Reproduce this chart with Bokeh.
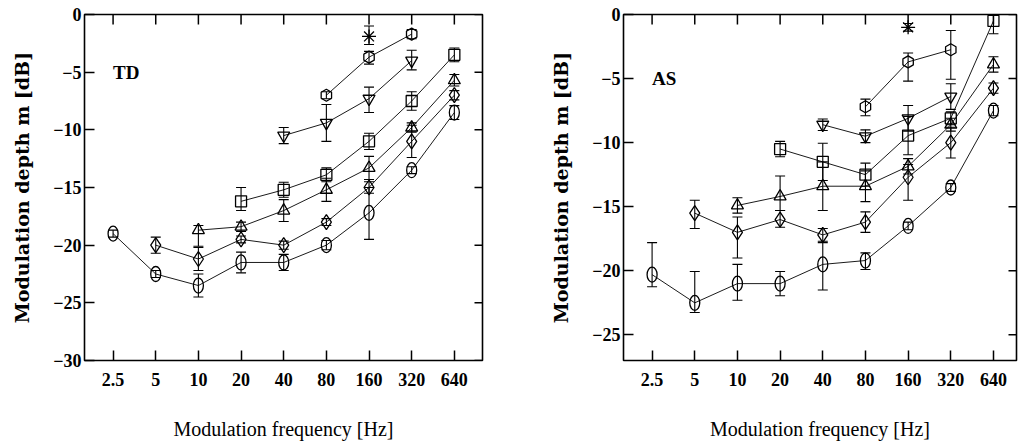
import numpy as np
from bokeh.plotting import figure
from bokeh.models import (ColumnDataSource, Whisker, TeeHead,
                          FixedTicker, Range1d, Label)
from bokeh.layouts import row
from bokeh.embed import file_html
from bokeh.resources import INLINE

N = None
freqs = [2.5, 5, 10, 20, 40, 80, 160, 320, 640]
freq_labels = ["2.5", "5", "10", "20", "40", "80", "160", "320", "640"]

# ---------------- TD panel ----------------
td_circle = [-19.0, -22.5, -23.5, -21.5, -21.5, -20.0, -17.2, -13.5, -8.5]
td_circle_hi = [0.3, 0.3, 1.0, 0.9, 0.7, 0.4, 2.2, 0.3, 0.6]
td_circle_lo = [0.3, 0.3, 1.0, 0.9, 0.7, 0.4, 2.3, 0.3, 0.6]

td_diamond = [N, -20.0, -21.2, -19.5, -20.0, -18.0, -15.0, -11.0, -7.0]
td_diamond_hi = [N, 0.7, 1.0, 0.3, 0.35, 0.3, 0.5, 1.4, 0.4]
td_diamond_lo = [N, 0.7, 1.0, 0.3, 0.35, 0.3, 0.5, 1.4, 0.4]

td_triangle = [N, N, -18.7, -18.4, -17.0, -15.2, -13.3, -9.8, -5.7]
td_triangle_hi = [N, N, 0.4, 0.4, 0.95, 1.0, 1.0, 0.4, 0.5]
td_triangle_lo = [N, N, 1.4, 0.4, 0.95, 1.0, 1.0, 0.4, 0.5]

td_square = [N, N, N, -16.2, -15.2, -13.9, -11.0, -7.5, -3.5]
td_square_hi = [N, N, N, 1.2, 0.65, 0.6, 0.7, 0.8, 0.6]
td_square_lo = [N, N, N, 0.8, 0.65, 0.6, 0.7, 0.8, 0.6]

td_invtri = [N, N, N, N, -10.5, -9.4, -7.3, -4.0, N]
td_invtri_hi = [N, N, N, N, 0.7, 1.6, 1.0, 0.9, N]
td_invtri_lo = [N, N, N, N, 0.7, 1.6, 1.2, 0.8, N]

td_pent = [N, N, N, N, N, -7.0, -3.7, -1.7, N]
td_pent_hi = [N, N, N, N, N, 0.3, 0.5, 0.4, N]
td_pent_lo = [N, N, N, N, N, 0.3, 0.6, 0.4, N]

td_star = [N, N, N, N, N, N, -1.9, N, N]
td_star_hi = [N, N, N, N, N, N, 0.9, N, N]
td_star_lo = [N, N, N, N, N, N, 0.7, N, N]

# ---------------- AS panel ----------------
as_circle = [-20.3, -22.5, -21.0, -21.0, -19.5, -19.2, -16.5, -13.5, -7.5]
as_circle_hi = [2.5, 2.45, 1.5, 0.95, 1.7, 0.6, 0.3, 0.3, 0.4]
as_circle_lo = [0.95, 0.75, 1.3, 0.95, 2.0, 0.7, 0.3, 0.3, 0.4]

as_diamond = [N, -15.5, -17.0, -16.0, -17.2, -16.2, -12.7, -10.0, -5.75]
as_diamond_hi = [N, 1.0, 1.2, 0.7, 0.5, 0.8, 1.0, 1.2, 0.4]
as_diamond_lo = [N, 1.2, 2.0, 0.6, 0.5, 0.8, 1.8, 1.2, 0.4]

as_triangle = [N, N, -14.9, -14.2, -13.4, -13.4, -11.85, -8.6, -3.9]
as_triangle_hi = [N, N, 0.6, 1.6, 1.9, 1.2, 0.6, 0.5, 0.6]
as_triangle_lo = [N, N, 0.6, 1.1, 1.9, 1.2, 0.6, 0.5, 0.6]

as_square = [N, N, N, -10.5, -11.5, -12.5, -9.45, -8.1, -0.5]
as_square_hi = [N, N, N, 0.6, 1.45, 0.9, 1.5, 0.5, 1.0]
as_square_lo = [N, N, N, 0.6, 1.45, 0.9, 1.5, 0.5, 1.0]

as_invtri = [N, N, N, N, -8.6, -9.5, -8.1, -6.4, N]
as_invtri_hi = [N, N, N, N, 0.45, 0.5, 1.0, 1.0, N]
as_invtri_lo = [N, N, N, N, 0.45, 0.5, 1.0, 1.0, N]

as_pent = [N, N, N, N, N, -7.2, -3.7, -2.75, N]
as_pent_hi = [N, N, N, N, N, 0.6, 0.7, 1.5, N]
as_pent_lo = [N, N, N, N, N, 0.7, 1.5, 2.3, N]

as_star = [N, N, N, N, N, N, -1.0, N, N]
as_star_hi = [N, N, N, N, N, N, 0.3, N, N]
as_star_lo = [N, N, N, N, N, N, 0.3, N, N]

x_pos = np.log2(np.array(freqs) / freqs[0])

TICK_FONT = "Liberation Serif"


def style_axis(ax):
    ax.axis_line_color = None
    ax.major_tick_in = 10
    ax.major_tick_out = 0
    ax.minor_tick_line_color = None
    ax.major_tick_line_color = "black"
    ax.major_tick_line_width = 1.5
    ax.major_label_text_font = TICK_FONT
    ax.major_label_text_font_style = "bold"
    ax.major_label_text_font_size = "18px"
    ax.major_label_text_color = "black"
    ax.axis_label_text_color = "black"


def add_series(p, vals, hi, lo, kind):
    xs, ys, ups, dns = [], [], [], []
    for xi, v, h, l in zip(x_pos, vals, hi, lo):
        if v is None:
            continue
        xs.append(xi)
        ys.append(v)
        ups.append(v + h)
        dns.append(v - l)
    src = ColumnDataSource(dict(x=xs, y=ys, upper=ups, lower=dns))
    if len(xs) > 1:
        p.line("x", "y", source=src, line_color="black", line_width=0.9)
    wk = Whisker(source=src, base="x", upper="upper", lower="lower",
                 line_color="black", line_width=1.1,
                 upper_head=TeeHead(size=10, line_color="black", line_width=1.1),
                 lower_head=TeeHead(size=10, line_color="black", line_width=1.1))
    p.add_layout(wk)
    common = dict(source=src, fill_color=None, line_color="black", line_width=1.3)
    if kind == "circle":
        p.ellipse("x", "y", width=10, height=15, width_units="screen",
                  height_units="screen", **common)
    elif kind == "diamond":
        p.scatter("x", "y", marker="diamond", size=15, **common)
    elif kind == "triangle":
        p.scatter("x", "y", marker="triangle", size=12, **common)
    elif kind == "square":
        p.scatter("x", "y", marker="square", size=11, **common)
    elif kind == "invtri":
        p.scatter("x", "y", marker="inverted_triangle", size=12, **common)
    elif kind == "pent":
        p.scatter("x", "y", marker="hex", size=12, angle=np.pi / 2, **common)
    elif kind == "star":
        p.scatter("x", "y", marker="asterisk", size=14, **common)


def make_panel(title, series, y_start, y_ticks, frame_w, x_end, b_left, b_right):
    p = figure(frame_width=frame_w, frame_height=346,
               x_range=Range1d(-0.67, x_end), y_range=Range1d(y_start, 0),
               min_border_left=b_left, min_border_right=b_right,
               min_border_top=14, min_border_bottom=84,
               output_backend="svg", toolbar_location=None)
    p.grid.visible = False
    p.outline_line_color = "black"
    p.outline_line_width = 1.6
    p.background_fill_color = "white"
    p.border_fill_color = "white"

    overrides = {float(xv): lab for xv, lab in zip(x_pos, freq_labels)}
    p.xaxis.ticker = FixedTicker(ticks=list(x_pos))
    p.xaxis.major_label_overrides = overrides
    p.yaxis.ticker = FixedTicker(ticks=y_ticks)
    for ax in p.xaxis + p.yaxis:
        style_axis(ax)
    p.xaxis.major_label_standoff = 12
    p.yaxis.major_label_standoff = 3

    p.xaxis.axis_label = "Modulation frequency [Hz]"
    p.xaxis.axis_label_text_font = TICK_FONT
    p.xaxis.axis_label_text_font_style = "normal"
    p.xaxis.axis_label_text_font_size = "20px"
    p.xaxis.axis_label_standoff = 29

    p.yaxis.axis_label = "Modulation depth m [dB]"
    p.yaxis.axis_label_text_font = "DejaVu Serif"
    p.yaxis.axis_label_text_font_style = "bold"
    p.yaxis.axis_label_text_font_size = "19px"
    p.yaxis.axis_label_standoff = 17

    # mirrored inward ticks on the top and right frame edges
    p.ray(x=list(x_pos), y=[0] * len(x_pos), length=10, length_units="screen",
          angle=-np.pi / 2, line_color="black", line_width=1.5)
    p.ray(x=[x_end] * len(y_ticks), y=y_ticks, length=8, length_units="screen",
          angle=np.pi, line_color="black", line_width=1.5)

    for vals, hi, lo, kind in series:
        add_series(p, vals, hi, lo, kind)

    p.add_layout(Label(x=0, y=-5, text=title, text_baseline="middle",
                       text_align="left", text_font=TICK_FONT,
                       text_font_style="bold", text_font_size="19px",
                       text_color="black"))
    return p


td_series = [
    (td_circle, td_circle_hi, td_circle_lo, "circle"),
    (td_diamond, td_diamond_hi, td_diamond_lo, "diamond"),
    (td_triangle, td_triangle_hi, td_triangle_lo, "triangle"),
    (td_square, td_square_hi, td_square_lo, "square"),
    (td_invtri, td_invtri_hi, td_invtri_lo, "invtri"),
    (td_pent, td_pent_hi, td_pent_lo, "pent"),
    (td_star, td_star_hi, td_star_lo, "star"),
]
as_series = [
    (as_circle, as_circle_hi, as_circle_lo, "circle"),
    (as_diamond, as_diamond_hi, as_diamond_lo, "diamond"),
    (as_triangle, as_triangle_hi, as_triangle_lo, "triangle"),
    (as_square, as_square_hi, as_square_lo, "square"),
    (as_invtri, as_invtri_hi, as_invtri_lo, "invtri"),
    (as_pent, as_pent_hi, as_pent_lo, "pent"),
    (as_star, as_star_hi, as_star_lo, "star"),
]

p1 = make_panel("TD", td_series, -30, [0, -5, -10, -15, -20, -25, -30],
                398, 8.66, 84, 27)
p2 = make_panel("AS", as_series, -27, [0, -5, -10, -15, -20, -25],
                393, 8.54, 114, 2)

layout = row(p1, p2)
open("out.html", "w").write(file_html(layout, INLINE))
